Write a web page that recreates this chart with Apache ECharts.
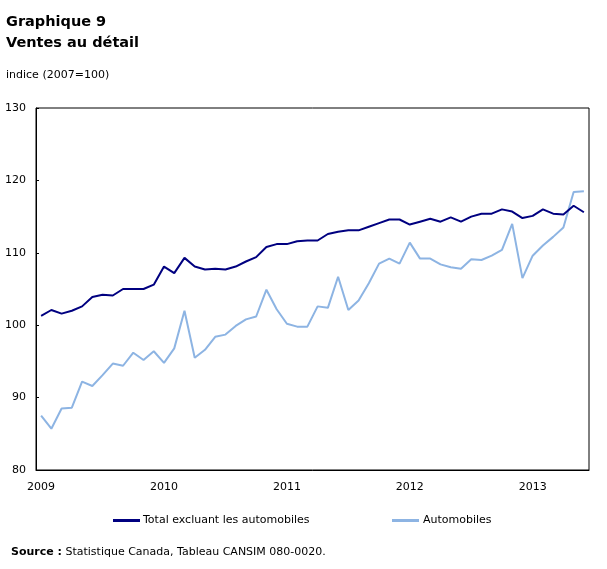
<!DOCTYPE html>
<html>
<head>
<meta charset="utf-8">
<script src="https://cdn.jsdelivr.net/npm/echarts@6/dist/echarts.min.js"></script>
<style>
  html, body { margin: 0; padding: 0; background: #fff; }
  #chart { width: 607px; height: 569px; }
</style>
</head>
<body>
<div id="chart"></div>
<script>
// années affichées sur l'axe des x (une étiquette par janvier)
const years = ['2009', '2010', '2011', '2012', '2013'];
const monthsInLastYear = 6;

// indice (2007=100), janvier 2009 à juin 2013
const totalExclAuto = [
  101.3, 102.1, 101.6, 102.0, 102.6, 103.9, 104.2, 104.1, 105.0, 105.0,
  105.0, 105.6, 108.1, 107.2, 109.3, 108.1, 107.7, 107.8, 107.7, 108.1,
  108.8, 109.4, 110.8, 111.2, 111.2, 111.6, 111.7, 111.7, 112.6, 112.9,
  113.1, 113.1, 113.6, 114.1, 114.6, 114.6, 113.9, 114.3, 114.7, 114.3,
  114.9, 114.3, 115.0, 115.4, 115.4, 116.0, 115.7, 114.8, 115.1, 116.0,
  115.4, 115.3, 116.5, 115.6
];
const automobiles = [
  87.5, 85.7, 88.5, 88.6, 92.2, 91.6, 93.1, 94.7, 94.4, 96.2,
  95.2, 96.4, 94.8, 96.8, 102.0, 95.5, 96.6, 98.4, 98.7, 99.9,
  100.8, 101.2, 104.9, 102.2, 100.2, 99.8, 99.8, 102.6, 102.4, 106.7,
  102.1, 103.4, 105.8, 108.5, 109.2, 108.5, 111.4, 109.2, 109.2, 108.4,
  108.0, 107.8, 109.1, 109.0, 109.6, 110.4, 114.0, 106.5, 109.6, 111.0,
  112.2, 113.5, 118.4, 118.5
];

const seriesNames = ['Total excluant les automobiles', 'Automobiles'];
const seriesColors = ['#000080', '#8db4e3'];

// catégories mensuelles
const months = [];
years.forEach((y, yi) => {
  const n = yi === years.length - 1 ? monthsInLastYear : 12;
  for (let m = 1; m <= n; m++) months.push(y + '-' + String(m).padStart(2, '0'));
});

const isJanuary = (idx) => idx % 12 === 0;
const font = '"DejaVu Sans", Verdana, sans-serif';

const chart = echarts.init(document.getElementById('chart'), null, { renderer: 'canvas' });

const option = {
  backgroundColor: '#fff',
  animation: false,
  textStyle: { fontFamily: font, color: '#000' },
  title: [
    {
      text: 'Graphique 9\nVentes au détail',
      left: 6,
      top: 12,
      padding: 0,
      textStyle: { fontFamily: font, fontSize: 14.5, fontWeight: 'bold', color: '#000', lineHeight: 21 }
    },
    {
      text: 'indice (2007=100)',
      left: 6,
      top: 70,
      padding: 0,
      textStyle: { fontFamily: font, fontSize: 11, fontWeight: 'normal', color: '#000' }
    },
    {
      text: '{b|Source :} Statistique Canada, Tableau CANSIM 080-0020.',
      left: 11,
      top: 547,
      padding: 0,
      textStyle: {
        fontFamily: font, fontSize: 11, fontWeight: 'normal', color: '#000',
        rich: { b: { fontFamily: font, fontSize: 11, fontWeight: 'bold', color: '#000' } }
      }
    }
  ],
  legend: [
    {
      data: [{ name: seriesNames[0], icon: 'rect' }],
      left: 108, top: 510,
      itemWidth: 27, itemHeight: 3,
      textStyle: { fontFamily: font, fontSize: 11, color: '#000', padding: [0, 0, 0, -2] }
    },
    {
      data: [{ name: seriesNames[1], icon: 'rect' }],
      left: 387, top: 510,
      itemWidth: 27, itemHeight: 3,
      textStyle: { fontFamily: font, fontSize: 11, color: '#000', padding: [0, 0, 0, -1] }
    }
  ],
  grid: {
    left: 36, right: 18, top: 108, bottom: 99,
    show: true, borderColor: '#000', borderWidth: 1,
    containLabel: false
  },
  xAxis: {
    type: 'category',
    data: months,
    boundaryGap: true,
    axisLine: { lineStyle: { color: '#000', width: 1 } },
    axisTick: { inside: true, length: 4, interval: isJanuary, lineStyle: { color: '#000' } },
    axisLabel: {
      interval: isJanuary,
      formatter: (v) => v.slice(0, 4),
      fontFamily: font, fontSize: 11, color: '#000', margin: 12
    },
    splitLine: { show: false }
  },
  yAxis: {
    type: 'value',
    min: 80, max: 130, interval: 10,
    axisLine: { show: true, lineStyle: { color: '#000', width: 1 } },
    axisTick: { show: true, inside: true, length: 3, lineStyle: { color: '#000' } },
    axisLabel: { fontFamily: font, fontSize: 11, color: '#000', margin: 10 },
    splitLine: { show: false }
  },
  series: [
    {
      name: seriesNames[1],
      type: 'line',
      data: automobiles,
      symbol: 'none',
      itemStyle: { color: seriesColors[1] },
      lineStyle: { color: seriesColors[1], width: 2 }
    },
    {
      name: seriesNames[0],
      type: 'line',
      data: totalExclAuto,
      symbol: 'none',
      itemStyle: { color: seriesColors[0] },
      lineStyle: { color: seriesColors[0], width: 2 }
    }
  ]
};

chart.setOption(option);
</script>
</body>
</html>
